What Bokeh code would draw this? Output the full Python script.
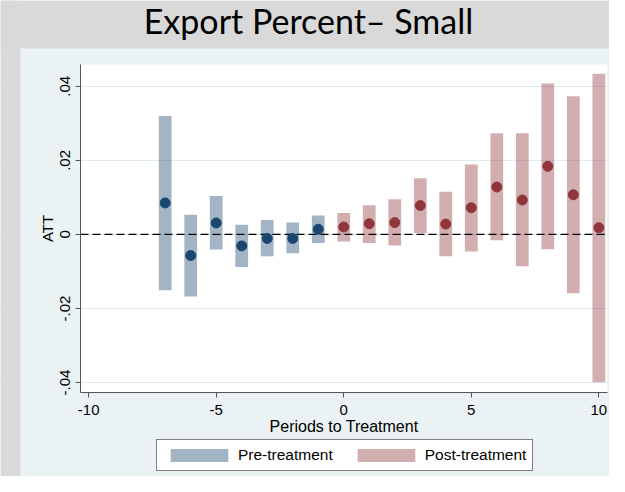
from bokeh.plotting import figure
from bokeh.models import (Legend, LegendItem, FixedTicker, CustomJSTickFormatter,
                          Label, Range1d, BoxAnnotation)
from bokeh.embed import file_html
from bokeh.resources import INLINE

# ---- data ----
pre_periods = [-7, -6, -5, -4, -3, -2, -1]
pre_att = [0.0085, -0.0057, 0.0031, -0.0031, -0.0011, -0.0011, 0.0014]
pre_lower = [-0.0151, -0.0168, -0.0041, -0.0088, -0.0059, -0.0051, -0.0023]
pre_upper = [0.0320, 0.0053, 0.0104, 0.0026, 0.0039, 0.0032, 0.0051]

post_periods = [0, 1, 2, 3, 4, 5, 6, 7, 8, 9, 10]
post_att = [0.0020, 0.0029, 0.0032, 0.0078, 0.0028, 0.0072, 0.0128, 0.0093, 0.0184, 0.0107, 0.0018]
post_lower = [-0.0019, -0.0023, -0.0030, 0.0004, -0.0059, -0.0046, -0.0016, -0.0086, -0.0040, -0.0159, -0.0399]
post_upper = [0.0058, 0.0079, 0.0095, 0.0152, 0.0115, 0.0189, 0.0273, 0.0273, 0.0408, 0.0373, 0.0434]

x_ticks = [-10, -5, 0, 5, 10]
y_ticks = [-0.04, -0.02, 0, 0.02, 0.04]
x_limits = (-10.32, 10.34)
y_limits = (-0.0427, 0.0459)

title_text = "Export Percent\u2013 Small"
x_label = "Periods to Treatment"
y_label = "ATT"
legend_labels = ["Pre-treatment", "Post-treatment"]

# ---- styles / layout (pixels) ----
OUTER = "#d9d9d9"
REGION = "#eaf2f3"
NAVY = "#1a476f"
MAROON = "#90353b"
AXIS_COL = "#555555"
FONT = "Liberation Sans"

W, H = 609, 476
PL, PR, PT, PB = 80, 607, 64, 392      # plot-area edges in canvas pixels
TITLE_BAND, LEFT_STRIP = 48, 20

# the frame covers the whole canvas; the plot area is mapped onto PL..PR / PT..PB
xs = (x_limits[1] - x_limits[0]) / (PR - PL)
ys = (y_limits[1] - y_limits[0]) / (PB - PT)
x_range = Range1d(x_limits[0] - PL * xs, x_limits[1] + (W - PR) * xs)
y_range = Range1d(y_limits[0] - (H - PB) * ys, y_limits[1] + PT * ys)

p = figure(width=W, height=H, output_backend="svg", toolbar_location=None,
           x_range=x_range, y_range=y_range, min_border=0,
           background_fill_color=REGION, border_fill_color=REGION,
           outline_line_color=None)

# white plot area (below the grid)
p.add_layout(BoxAnnotation(left=x_limits[0], right=x_limits[1],
                           bottom=y_limits[0], top=y_limits[1],
                           fill_color="white", fill_alpha=1, line_color=None, level="image"))
# graph-region colour left / right of the plot area (hides the grid there)
p.add_layout(BoxAnnotation(left=LEFT_STRIP, right=x_limits[0], bottom=0, top=H - TITLE_BAND,
                           left_units="screen", right_units="data",
                           bottom_units="screen", top_units="screen",
                           fill_color=REGION, fill_alpha=1, line_color=None, level="underlay"))
p.add_layout(BoxAnnotation(left=x_limits[1], right=W, bottom=0, top=H - TITLE_BAND,
                           left_units="data", right_units="screen",
                           bottom_units="screen", top_units="screen",
                           fill_color=REGION, fill_alpha=1, line_color=None, level="underlay"))
# gray title band and left strip
p.add_layout(BoxAnnotation(left=0, right=W, top=H, bottom=H - TITLE_BAND,
                           left_units="screen", right_units="screen",
                           top_units="screen", bottom_units="screen",
                           fill_color=OUTER, fill_alpha=1, line_color=None, level="underlay"))
p.add_layout(BoxAnnotation(left=0, right=LEFT_STRIP, top=H, bottom=0,
                           left_units="screen", right_units="screen",
                           top_units="screen", bottom_units="screen",
                           fill_color=OUTER, fill_alpha=1, line_color=None, level="underlay"))

p.add_layout(Label(x=308, y=H - 20, x_units="screen", y_units="screen",
                   text=title_text, text_align="center", text_baseline="alphabetic",
                   text_font="Lato", text_font_size="34px", text_color="black"))

p.xgrid.visible = False
p.ygrid.ticker = FixedTicker(ticks=y_ticks)
p.ygrid.grid_line_color = "#e2ebed"
p.ygrid.grid_line_width = 1

r_pre = p.vbar(x=pre_periods, bottom=pre_lower, top=pre_upper, width=0.5,
               fill_color=NAVY, fill_alpha=0.4, line_color=None)
r_post = p.vbar(x=post_periods, bottom=post_lower, top=post_upper, width=0.5,
                fill_color=MAROON, fill_alpha=0.4, line_color=None)

# dashed zero line across the plot area
p.line(x=list(x_limits), y=[0, 0], line_color="black", line_dash="8 4", line_width=1.3)

p.scatter(x=pre_periods, y=pre_att, size=10, fill_color=NAVY, line_color=NAVY)
p.scatter(x=post_periods, y=post_att, size=10, fill_color=MAROON, line_color=MAROON)

xa = p.xaxis[0]
xa.fixed_location = y_limits[0]
xa.bounds = x_limits
xa.ticker = FixedTicker(ticks=x_ticks)
xa.formatter = CustomJSTickFormatter(code="return tick.toFixed(0);")
xa.axis_label = x_label
ya = p.yaxis[0]
ya.fixed_location = x_limits[0]
ya.bounds = y_limits
ya.ticker = FixedTicker(ticks=y_ticks)
ya.formatter = CustomJSTickFormatter(code="""
    if (Math.abs(tick) < 1e-12) { return "0"; }
    return tick.toFixed(2).replace("0.", ".");
""")
ya.axis_label = y_label
ya.major_label_orientation = "vertical"

for ax in (xa, ya):
    ax.axis_line_color = AXIS_COL
    ax.major_tick_line_color = AXIS_COL
    ax.major_tick_out = 5
    ax.major_tick_in = 0
    ax.minor_tick_line_color = None
    ax.major_label_text_font = FONT
    ax.major_label_text_font_size = "15px"
    ax.major_label_text_color = "black"
    ax.axis_label_text_font = FONT
    ax.axis_label_text_font_style = "normal"
    ax.axis_label_text_color = "black"
xa.axis_label_text_font_size = "16px"
ya.axis_label_text_font_size = "15px"
xa.major_label_standoff = 7
xa.axis_label_standoff = 0
ya.major_label_standoff = 5
ya.axis_label_standoff = 2

# bar legend glyphs are inset by 10% on each side: 72x16 gives ~58x13 swatches
legend = Legend(items=[LegendItem(label=legend_labels[0], renderers=[r_pre]),
                       LegendItem(label=legend_labels[1], renderers=[r_post])],
                orientation="horizontal", location=(156, H - 471),
                glyph_width=72, glyph_height=16, label_standoff=3, spacing=17,
                padding=6, margin=0,
                border_line_color="black", border_line_width=1,
                background_fill_color="white", background_fill_alpha=1,
                label_text_font=FONT, label_text_font_size="15.5px",
                label_text_color="black")
p.add_layout(legend, "center")

with open("out.html", "w") as f:
    f.write(file_html(p, INLINE, title="Export Percent - Small"))
